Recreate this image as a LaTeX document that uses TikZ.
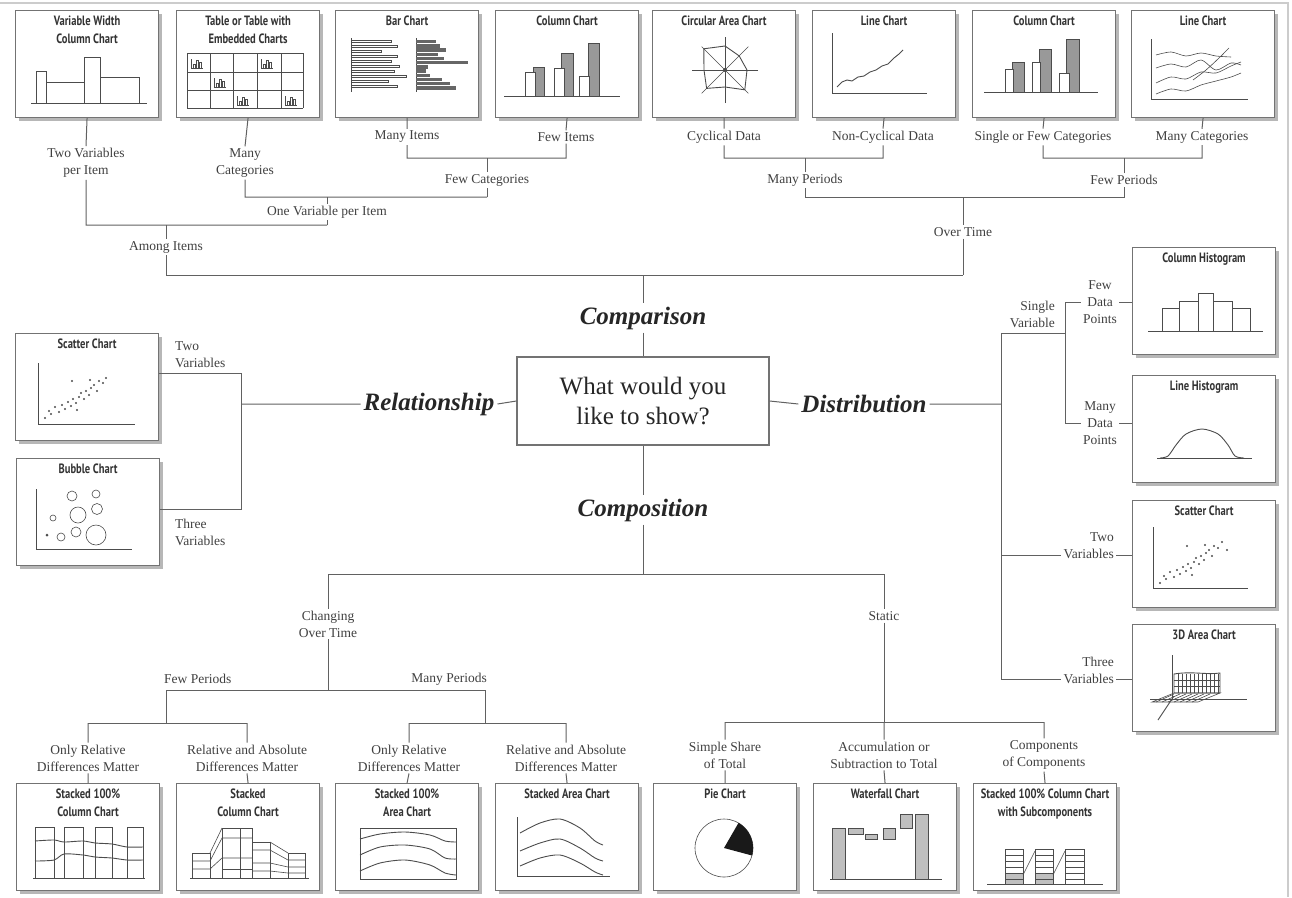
\documentclass[tikz,border=0pt]{standalone}
\usepackage{fontspec}
\setmainfont{Liberation Serif}
\newfontfamily\ttlfont[FakeStretch=0.78]{PT Sans}
\usetikzlibrary{shadows}
\definecolor{lncol}{gray}{0.38}
\definecolor{txcol}{gray}{0.25}
\definecolor{chcol}{gray}{0.30}
\begin{document}
\begin{tikzpicture}[x=1pt,y=-1pt,
 chartbox/.style={draw=black!55, line width=1.1pt, fill=white, minimum width=143pt, minimum height=107pt, anchor=north west, inner sep=0pt, drop shadow={shadow xshift=3pt,shadow yshift=-3pt,fill=black!35,opacity=0.8}},
 ctitle/.style={font=\ttlfont\bfseries\fontsize{13.5}{18}\selectfont, align=center, anchor=north, inner sep=0pt, text=black!80},
 lbl/.style={font=\fontsize{13.5}{17}\selectfont, align=center, inner sep=2pt, text=txcol},
 big/.style={font=\bfseries\itshape\fontsize{25}{30}\selectfont, inner sep=3pt, text=black!85},
 conn/.style={draw=lncol, line width=1pt},
 cl/.style={draw=chcol, line width=0.9pt},
 thin/.style={draw=chcol, line width=0.6pt},
 dot/.style={fill=chcol},
]
\useasboundingbox (0,0) rectangle (1292,897);
\fill[white] (0,0) rectangle (1292,897);
\draw[black!20, line width=2pt] (0,3) -- (1288,3) -- (1288,897);

% ---------------- center ----------------
\node[draw=black!55, line width=1.1pt, fill=white, minimum width=252pt, minimum height=88pt, align=center, font=\fontsize{25}{30}\selectfont, text=black!85] (q) at (643,401) {What would you\\like to show?};
\node[big] (lComp) at (643,318) {Comparison};
\node[big] (lCo) at (643,510) {Composition};
\node[big] (lRel) at (429,404) {Relationship};
\node[big] (lDist) at (864,404) {Distribution};

% ---------------- top boxes ----------------
\node[chartbox] (bVW) at (15,10) {};
\node[ctitle] (tVW) at ([yshift=-6pt]bVW.north) {Variable Width\\Column Chart};
\node[chartbox] (bTab) at (176,10) {};
\node[ctitle] (tTab) at ([yshift=-6pt]bTab.north) {Table or Table with\\Embedded Charts};
\node[chartbox] (bBar) at (335,10) {};
\node[ctitle] (tBar) at ([yshift=-6pt]bBar.north) {Bar Chart};
\node[chartbox] (bCol) at (495,10) {};
\node[ctitle] (tCol) at ([yshift=-6pt]bCol.north) {Column Chart};
\node[chartbox] (bCirc) at (652,10) {};
\node[ctitle] (tCirc) at ([yshift=-6pt]bCirc.north) {Circular Area Chart};
\node[chartbox] (bLine) at (812,10) {};
\node[ctitle] (tLine) at ([yshift=-6pt]bLine.north) {Line Chart};
\node[chartbox] (bCol2) at (972,10) {};
\node[ctitle] (tCol2) at ([yshift=-6pt]bCol2.north) {Column Chart};
\node[chartbox] (bLine2) at (1131,10) {};
\node[ctitle] (tLine2) at ([yshift=-6pt]bLine2.north) {Line Chart};

% left boxes
\node[chartbox] (bSc) at (15,333) {};
\node[ctitle] (tSc) at ([yshift=-6pt]bSc.north) {Scatter Chart};
\node[chartbox] (bBub) at (16,458) {};
\node[ctitle] (tBub) at ([yshift=-6pt]bBub.north) {Bubble Chart};

% right boxes
\node[chartbox] (bCH) at (1132,247) {};
\node[ctitle] (tCH) at ([yshift=-6pt]bCH.north) {Column Histogram};
\node[chartbox] (bLH) at (1132,375) {};
\node[ctitle] (tLH) at ([yshift=-6pt]bLH.north) {Line Histogram};
\node[chartbox] (bSc2) at (1132,500) {};
\node[ctitle] (tSc2) at ([yshift=-6pt]bSc2.north) {Scatter Chart};
\node[chartbox] (b3D) at (1132,624) {};
\node[ctitle] (t3D) at ([yshift=-6pt]b3D.north) {3D Area Chart};

% bottom boxes
\node[chartbox] (bS1) at (16,783) {};
\node[ctitle] (tS1) at ([yshift=-6pt]bS1.north) {Stacked 100\%\\Column Chart};
\node[chartbox] (bS2) at (176,783) {};
\node[ctitle] (tS2) at ([yshift=-6pt]bS2.north) {Stacked\\Column Chart};
\node[chartbox] (bS3) at (335,783) {};
\node[ctitle] (tS3) at ([yshift=-6pt]bS3.north) {Stacked 100\%\\Area Chart};
\node[chartbox] (bS4) at (495,783) {};
\node[ctitle] (tS4) at ([yshift=-6pt]bS4.north) {Stacked Area Chart};
\node[chartbox] (bPie) at (653,783) {};
\node[ctitle] (tPie) at ([yshift=-6pt]bPie.north) {Pie Chart};
\node[chartbox] (bWat) at (813,783) {};
\node[ctitle] (tWat) at ([yshift=-6pt]bWat.north) {Waterfall Chart};
\node[chartbox] (bSub) at (973,783) {};
\node[ctitle] (tSub) at ([yshift=-6pt]bSub.north) {Stacked 100\% Column Chart\\with Subcomponents};

% ---------------- mini charts ----------------
% variable width column
\begin{scope}[shift={(bVW.north west)}]
 \draw[cl] (16,93) -- (132,93);
 \draw[cl] (21,93) rectangle (31,61);
 \draw[cl] (31,93) rectangle (69,72);
 \draw[cl] (69,93) rectangle (85,47);
 \draw[cl] (85,93) rectangle (124,67);
\end{scope}
% table
\begin{scope}[shift={(bTab.north west)}]
 \foreach \xx in {11,34,57,81,105,127} \draw[cl] (\xx,43) -- (\xx,98);
 \foreach \yy in {43,62,80,98} \draw[cl] (11,\yy) -- (127,\yy);
 \foreach \cx/\cy in {11/43,81/43,34/62,57/80,105/80} {
  \draw[thin] ({\cx+4},{\cy+6}) -- ({\cx+4},{\cy+15}) -- ({\cx+16},{\cy+15});
  \draw[thin] ({\cx+6},{\cy+15}) rectangle ({\cx+8},{\cy+11});
  \draw[thin] ({\cx+9},{\cy+15}) rectangle ({\cx+11},{\cy+7});
  \draw[thin] ({\cx+12},{\cy+15}) rectangle ({\cx+14},{\cy+9});
 }
\end{scope}
% bar chart
\begin{scope}[shift={(bBar.north west)}]
 \draw[thin] (16,28) -- (16,82);
 \foreach \l [count=\i from 0] in {40,46,30,46,40,48,43,55,37,46}
  \draw[thin] (16,{30+5*\i}) rectangle ({16+\l},{32.6+5*\i});
 \draw[thin] (81,28) -- (81,82);
 \foreach \l [count=\i from 0] in {20,24,30,22,28,52,12,10,14,26,34,40}
  \fill[black!60] (81,{30+4.2*\i}) rectangle ({81+\l},{33.4+4.2*\i});
\end{scope}
% column chart
\begin{scope}[shift={(bCol.north west)}]
 \draw[cl] (9,86) -- (125,86);
 \draw[cl,fill=black!40] (38,86) rectangle (49,57);
 \draw[cl,fill=white] (30,86) rectangle (40,62);
 \draw[cl,fill=black!40] (66,86) rectangle (78,43);
 \draw[cl,fill=white] (59,86) rectangle (69,58);
 \draw[cl,fill=black!40] (93,86) rectangle (104,33);
 \draw[cl,fill=white] (84,86) rectangle (94,66);
\end{scope}
% circular area
\begin{scope}[shift={(bCirc.north west)}]
 \begin{scope}[shift={(73,60)}]
  \foreach \a in {0,45,90,135} \draw[thin] (\a:33) -- ({\a+180}:33);
  \draw[cl] (0:22) -- (45:28) -- (90:17) -- (135:26) -- (180:21) -- (225:30) -- (270:24) -- (315:20) -- cycle;
  \fill[chcol] (0,0) circle (2);
 \end{scope}
\end{scope}
% line chart
\begin{scope}[shift={(bLine.north west)}]
 \draw[cl] (20,23) -- (20,83) -- (115,83);
 \draw[cl] plot coordinates {(25,77)(30,72)(35,70)(40,71)(46,67)(52,66)(58,62)(64,60)(70,56)(76,54)(82,48)(87,44)(91,40)};
\end{scope}
% column chart 2
\begin{scope}[shift={(bCol2.north west)}]
 \draw[cl] (12,82) -- (126,82);
 \draw[cl,fill=black!40] (40,82) rectangle (52,52);
 \draw[cl,fill=white] (33,82) rectangle (41,59);
 \draw[cl,fill=black!40] (67,82) rectangle (79,39);
 \draw[cl,fill=white] (60,82) rectangle (68,52);
 \draw[cl,fill=black!40] (94,82) rectangle (107,29);
 \draw[cl,fill=white] (87,82) rectangle (97,63);
\end{scope}
% line chart 2
\begin{scope}[shift={(bLine2.north west)}]
 \draw[cl] (20,29) -- (20,89) -- (117,89);
 \draw[thin] plot[smooth] coordinates {(25,45)(40,42)(55,46)(70,43)(85,46)(100,47)};
 \draw[thin] plot[smooth] coordinates {(25,58)(40,54)(55,57)(70,50)(85,60)(100,53)(110,55)};
 \draw[thin] plot[smooth] coordinates {(25,73)(40,67)(55,69)(70,62)(85,63)(100,56)(110,52)};
 \draw[thin] plot[smooth] coordinates {(25,84)(40,79)(55,81)(70,75)(85,71)(100,67)(110,63)};
 \draw[thin] plot[smooth] coordinates {(62,70)(75,60)(88,48)(98,38)};
\end{scope}
% scatter left
\begin{scope}[shift={(bSc.north west)}]
 \draw[cl] (23,30) -- (23,91) -- (120,91);
 \foreach \p in {(30,85),(34,78),(36,81),(40,74),(44,79),(47,72),(50,76),(53,69),(56,73),(58,66),(61,70),(64,64),(66,60),(69,66),(71,58),(74,62),(76,55),(79,52),(82,58),(84,48),(88,50),(91,45),(57,48),(75,47),(62,77)}
  \fill[chcol] \p circle (1.2);
\end{scope}
% bubble
\begin{scope}[shift={(bBub.north west)}]
 \draw[cl] (20,31) -- (20,91) -- (116,91);
 \draw[thin] (56,38) circle (5);
 \draw[thin] (80,36) circle (4);
 \draw[thin] (62,57) circle (8);
 \draw[thin] (81,51) circle (5.5);
 \draw[thin] (37,60) circle (3);
 \fill[chcol] (31,77) circle (1.5);
 \draw[thin] (45,79) circle (4);
 \draw[thin] (60,74) circle (5);
 \draw[thin] (80,77) circle (10);
\end{scope}
% column histogram
\begin{scope}[shift={(bCH.north west)}]
 \draw[cl] (16,84) -- (131,84);
 \draw[cl] (30,84) rectangle (47,61);
 \draw[cl] (47,84) rectangle (66,54);
 \draw[cl] (66,84) rectangle (81,46);
 \draw[cl] (81,84) rectangle (100,54);
 \draw[cl] (100,84) rectangle (118,61);
\end{scope}
% line histogram
\begin{scope}[shift={(bLH.north west)}]
 \draw[cl] (25,83) -- (120,83);
 \draw[cl] plot[smooth] coordinates {(28,83)(36,81)(44,70)(54,59)(70,54)(86,59)(96,70)(103,81)(112,83)};
\end{scope}
% scatter right
\begin{scope}[shift={(bSc2.north west)}]
 \draw[cl] (21,27) -- (21,88) -- (116,88);
 \foreach \p in {(28,83),(32,76),(34,79),(38,72),(42,77),(45,70),(48,74),(51,67),(54,71),(56,64),(59,68),(62,62),(64,58),(67,64),(69,56),(72,60),(74,53),(77,50),(80,56),(82,46),(86,48),(90,42),(55,46),(73,45),(60,75),(95,50)}
  \fill[chcol] \p circle (1.2);
\end{scope}
% 3D area
\begin{scope}[shift={(b3D.north west)}]
 \draw[thin] (20,78) -- (42,69) -- (88,69) -- (66,78) -- cycle;
 \foreach \xx in {24,30,36,42,48,54,60} \draw[thin] (\xx,78) -- ({\xx+18},70);
 \draw[cl] (42,50) .. controls (60,47) and (75,51) .. (88,49) -- (88,69) -- (42,69) -- cycle;
 \foreach \xx in {46,50,54,58,62,66,70,74,78,82,86} \draw[thin] (\xx,50) -- (\xx,69);
 \foreach \yy in {56,62} \draw[thin] (42,\yy) -- (88,\yy);
 \draw[cl] (40,31) -- (40,76);
 \draw[cl] (18,75) -- (115,75);
 \draw[cl] (26,96) -- (42,72);
\end{scope}
% stacked 100% column
\begin{scope}[shift={(bS1.north west)}]
 \draw[cl] (17,95) -- (129,95);
 \foreach \a/\b in {19/38,48/67,79/96,111/127} \draw[cl] (\a,95) rectangle (\b,44);
 \draw[cl] plot[smooth] coordinates {(19,58)(38,57)(48,59)(67,58)(79,60)(96,61)(111,64)(127,64)};
 \draw[cl] plot[smooth] coordinates {(19,78)(38,77)(48,71)(67,72)(79,74)(96,75)(111,77)(127,77)};
\end{scope}
% stacked column
\begin{scope}[shift={(bS2.north west)}]
 \draw[cl] (14,95) -- (133,95);
 \draw[cl] (16,95) rectangle (34,70);
 \draw[cl] (46,95) rectangle (76,45);
 \draw[cl] (64,95) -- (64,45);
 \draw[cl] (76,95) rectangle (94,59);
 \draw[cl] (112,95) rectangle (129,70);
 \draw[thin] (16,78) -- (34,78) -- (46,55) -- (76,55);
 \draw[thin] (16,86) -- (34,86) -- (46,75) -- (76,75);
 \draw[thin] (34,70) -- (46,45);
 \draw[thin] (76,67) -- (94,67) -- (112,77) -- (129,77);
 \draw[thin] (76,80) -- (94,80) -- (112,84) -- (129,84);
 \draw[thin] (76,88) -- (94,88) -- (112,90) -- (129,90);
 \draw[thin] (94,59) -- (112,70);
 \draw[thin] (76,86) -- (46,86);
\end{scope}
% stacked 100% area
\begin{scope}[shift={(bS3.north west)}]
 \draw[cl] (25,45) rectangle (121,96);
 \draw[cl] plot[smooth] coordinates {(25,56)(45,51)(70,49)(95,52)(110,58)(121,59)};
 \draw[cl] plot[smooth] coordinates {(25,72)(45,64)(70,62)(95,66)(110,75)(121,76)};
 \draw[cl] plot[smooth] coordinates {(25,88)(45,80)(70,77)(95,82)(110,90)(121,92)};
\end{scope}
% stacked area
\begin{scope}[shift={(bS4.north west)}]
 \draw[cl] (22,34) -- (22,93) -- (115,93);
 \draw[cl] plot[smooth] coordinates {(25,50)(45,40)(65,36)(85,45)(100,58)(108,62)};
 \draw[cl] plot[smooth] coordinates {(25,68)(45,60)(65,56)(85,65)(100,75)(108,78)};
 \draw[cl] plot[smooth] coordinates {(25,83)(45,75)(65,72)(85,80)(100,89)(108,92)};
\end{scope}
% pie
\begin{scope}[shift={(bPie.north west)}]
 \draw[thin] (71,65) circle (29);
 \fill[black!90] (71,65) -- plot[domain=-60:15,samples=24] ({71+29*cos(\x)},{65+29*sin(\x)}) -- cycle;
\end{scope}
% waterfall
\begin{scope}[shift={(bWat.north west)}]
 \draw[cl] (17,96) -- (129,96);
 \draw[cl,fill=black!25] (19,96) rectangle (32,45);
 \draw[cl,fill=black!25] (102,96) rectangle (115,31);
 \draw[cl,fill=black!25] (35,45) rectangle (50,51);
 \draw[cl,fill=black!25] (52,51) rectangle (64,56);
 \draw[cl,fill=black!25] (70,45) rectangle (82,56);
 \draw[cl,fill=black!25] (87,31) rectangle (99,45);
\end{scope}
% stacked 100% column with subcomponents
\begin{scope}[shift={(bSub.north west)}]
 \draw[cl] (14,101) -- (130,101);
 \fill[black!25] (32,101) rectangle (50,90);
 \fill[black!25] (62,101) rectangle (80,90);
 \foreach \a/\b in {32/50,62/80,92/111} {
  \draw[cl] (\a,101) rectangle (\b,66);
  \foreach \yy in {72,78,84,90,96} \draw[thin] (\a,\yy) -- (\b,\yy);
 }
 \draw[thin] (50,92) -- (62,68);
 \draw[thin] (80,92) -- (92,68);
\end{scope}

% ---------------- top tree ----------------
\node[lbl] (lTV) at (86,163) {Two Variables\\per Item};
\node[lbl] (lMC) at (245,163) {Many\\Categories};
\node[lbl] (lMI) at (407,137) {Many Items};
\node[lbl] (lFI) at (566,137) {Few Items};
\node[lbl] (lFC) at (487,180) {Few Categories};
\node[lbl] (lOV) at (327,212) {One Variable per Item};
\node[lbl] (lAI) at (166,247) {Among Items};
\node[lbl] (lCy) at (724,137) {Cyclical Data};
\node[lbl] (lNC) at (883,137) {Non-Cyclical Data};
\node[lbl] (lSF) at (1043,137) {Single or Few Categories};
\node[lbl] (lMC2) at (1202,137) {Many Categories};
\node[lbl] (lMP) at (805,180) {Many Periods};
\node[lbl] (lFP) at (1124,180) {Few Periods};
\node[lbl] (lOT) at (963,232) {Over Time};

\coordinate (j1) at (86,225);
\coordinate (j2) at (245,197);
\coordinate (j3) at (407,158);
\coordinate (j4) at (566,158);
\coordinate (jFC) at (487,158);
\coordinate (j5) at (487,197);
\coordinate (jOV1) at (327,197);
\coordinate (jOV2) at (327,225);
\coordinate (jAI1) at (166,225);
\coordinate (jAI2) at (166,275);
\coordinate (jC) at (643,275);
\coordinate (jOT2) at (963,275);
\coordinate (k1) at (724,158);
\coordinate (k2) at (883,158);
\coordinate (kMP) at (805,158);
\coordinate (kMP2) at (805,197);
\coordinate (k3) at (1043,158);
\coordinate (k4) at (1202,158);
\coordinate (kFP) at (1124,158);
\coordinate (kFP2) at (1124,197);
\coordinate (kOT) at (963,197);

\draw[conn] (bVW.south) -- (lTV.north) (lTV.south) -- (j1) -- (jOV2);
\draw[conn] (bTab.south) -- (lMC.north) (lMC.south) -- (j2) -- (j5);
\draw[conn] (bBar.south) -- (lMI.north) (lMI.south) -- (j3) -- (j4) -- (lFI.south) (lFI.north) -- (bCol.south);
\draw[conn] (jFC) -- (lFC.north) (lFC.south) -- (j5);
\draw[conn] (jOV1) -- (lOV.north) (lOV.south) -- (jOV2);
\draw[conn] (jAI1) -- (lAI.north) (lAI.south) -- (jAI2) -- (jOT2);
\draw[conn] (bCirc.south) -- (lCy.north) (lCy.south) -- (k1) -- (k2) -- (lNC.south) (lNC.north) -- (bLine.south);
\draw[conn] (kMP) -- (lMP.north) (lMP.south) -- (kMP2) -- (kFP2) -- (lFP.south) (lFP.north) -- (kFP);
\draw[conn] (bCol2.south) -- (lSF.north) (lSF.south) -- (k3) -- (k4) -- (lMC2.south) (lMC2.north) -- (bLine2.south);
\draw[conn] (kOT) -- (lOT.north) (lOT.south) -- (jOT2);
\draw[conn] (jC) -- (lComp.north) (lComp.south) -- (q.north);

% ---------------- relationship ----------------
\coordinate (jR) at (241,404);
\coordinate (jR1) at (241,373);
\coordinate (jR2) at (241,509);
\node[lbl, anchor=west, align=left] (lRT) at (173,355) {Two\\Variables};
\node[lbl, anchor=west, align=left] (lRTh) at (173,532) {Three\\Variables};
\draw[conn] (q.west) -- (lRel.east) (lRel.west) -- (jR);
\draw[conn] (jR1 -| bSc.east) -- (jR1) -- (jR2) -- (jR2 -| bBub.east);

% ---------------- distribution ----------------
\coordinate (jD) at (1001,404);
\coordinate (jD1) at (1001,333);
\coordinate (jD1b) at (1065,333);
\coordinate (jFD) at (1065,302);
\coordinate (jMD) at (1065,423);
\coordinate (jD3) at (1001,555);
\coordinate (jD4) at (1001,679);
\node[lbl, anchor=east, align=right] (lSV) at (1057,314) {Single\\Variable};
\node[lbl] (lFD) at (1100,302) {Few\\Data\\Points};
\node[lbl] (lMD) at (1100,423) {Many\\Data\\Points};
\node[lbl, anchor=east, align=right] (lTV2) at (1116,546) {Two\\Variables};
\node[lbl, anchor=east, align=right] (lThV) at (1116,670) {Three\\Variables};
\draw[conn] (q.east) -- (lDist.west) (lDist.east) -- (jD);
\draw[conn] (jD1) -- (jD4);
\draw[conn] (jD1) -- (jD1b);
\draw[conn] (jFD) -- (jMD);
\draw[conn] (jFD) -- (lFD.west) (lFD.east) -- (lFD.east -| bCH.west);
\draw[conn] (jMD) -- (lMD.west) (lMD.east) -- (lMD.east -| bLH.west);
\draw[conn] (jD3) -- (jD3 -| lTV2.west) (lTV2.east |- jD3) -- (jD3 -| bSc2.west);
\draw[conn] (jD4) -- (jD4 -| lThV.west) (lThV.east |- jD4) -- (jD4 -| b3D.west);

% ---------------- composition ----------------
\coordinate (jCo) at (643,574);
\coordinate (jB1) at (328,574);
\coordinate (jB2) at (884,574);
\coordinate (jB3) at (328,690);
\coordinate (jB4) at (166,690);
\coordinate (jB5) at (485,690);
\coordinate (jB6) at (166,723);
\coordinate (jB7) at (88,723);
\coordinate (jB8) at (247,723);
\coordinate (jB9) at (485,723);
\coordinate (jB10) at (409,723);
\coordinate (jB11) at (566,723);
\coordinate (jS) at (884,722);
\coordinate (jS1) at (725,722);
\coordinate (jS2) at (1044,722);
\node[lbl] (lCh) at (328,624) {Changing\\Over Time};
\node[lbl, anchor=west] (lFPb) at (162,679) {Few Periods};
\node[lbl, anchor=east] (lMPb) at (489,679) {Many Periods};
\node[lbl] (lOR1) at (88,758) {Only Relative\\Differences Matter};
\node[lbl] (lRA1) at (247,758) {Relative and Absolute\\Differences Matter};
\node[lbl] (lOR2) at (409,758) {Only Relative\\Differences Matter};
\node[lbl] (lRA2) at (566,758) {Relative and Absolute\\Differences Matter};
\node[lbl] (lSt) at (884,616) {Static};
\node[lbl] (lSS) at (725,755) {Simple Share\\of Total};
\node[lbl] (lAc) at (884,755) {Accumulation or\\Subtraction to Total};
\node[lbl] (lCC) at (1044,755) {Components\\of Components};

\draw[conn] (q.south) -- (lCo.north) (lCo.south) -- (jCo);
\draw[conn] (jB1) -- (jB2);
\draw[conn] (jB1) -- (lCh.north) (lCh.south) -- (jB3);
\draw[conn] (jB4) -- (jB5);
\draw[conn] (jB4) -- (jB6);
\draw[conn] (jB7) -- (jB8);
\draw[conn] (jB5) -- (jB9);
\draw[conn] (jB10) -- (jB11);
\draw[conn] (jB7) -- (lOR1.north) (lOR1.south) -- (bS1.north);
\draw[conn] (jB8) -- (lRA1.north) (lRA1.south) -- (bS2.north);
\draw[conn] (jB10) -- (lOR2.north) (lOR2.south) -- (bS3.north);
\draw[conn] (jB11) -- (lRA2.north) (lRA2.south) -- (bS4.north);
\draw[conn] (jB2) -- (lSt.north) (lSt.south) -- (jS);
\draw[conn] (jS1) -- (jS2);
\draw[conn] (jS1) -- (lSS.north) (lSS.south) -- (bPie.north);
\draw[conn] (jS) -- (lAc.north) (lAc.south) -- (bWat.north);
\draw[conn] (jS2) -- (lCC.north) (lCC.south) -- (bSub.north);
\end{tikzpicture}
\end{document}
